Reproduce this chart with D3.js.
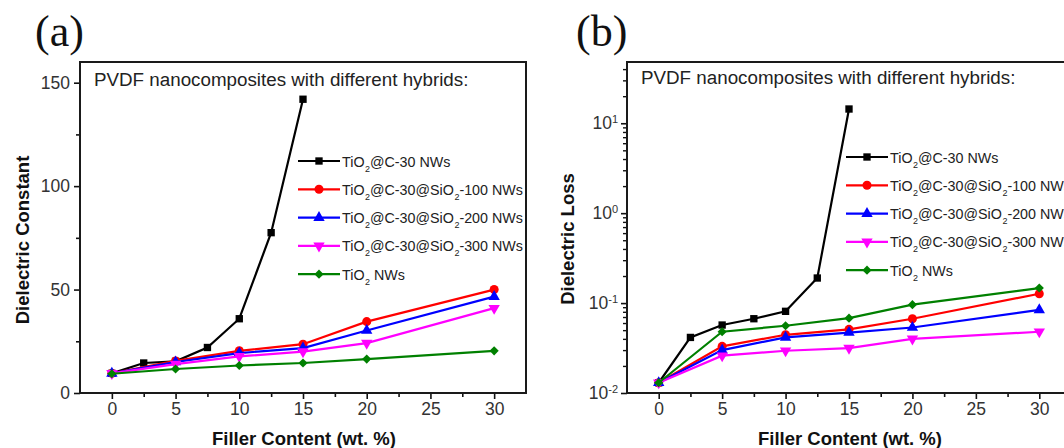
<!DOCTYPE html>
<html>
<head>
<meta charset="utf-8">
<script src="https://cdn.jsdelivr.net/npm/d3@7/dist/d3.min.js"></script>
<style>
  html, body { margin: 0; padding: 0; background: #fff; }
  svg { display: block; font-family: "Liberation Sans", Arial, sans-serif; }
</style>
</head>
<body>
<svg id="chart" width="1064" height="448"></svg>
<script>
// ---------------- data ----------------
const xBlack = [0, 2.5, 5, 7.5, 10, 12.5, 15];
const xOther = [0, 5, 10, 15, 20, 30];

// (a) dielectric constant
const constBlack   = [9.5, 14.5, 15.3, 22, 35.9, 77.5, 142];
const constRed     = [9.5, 15.5, 20.4, 23.6, 34.5, 50];
const constBlue    = [9.5, 15, 19.3, 21.7, 30.2, 46.6];
const constMagenta = [9.5, 14, 17.7, 20, 24.1, 41];
const constGreen   = [9.3, 11.6, 13.3, 14.5, 16.4, 20.4];

// (b) dielectric loss
const lossBlack   = [0.013, 0.0415, 0.057, 0.067, 0.081, 0.19, 14.4];
const lossRed     = [0.013, 0.033, 0.0444, 0.051, 0.067, 0.127];
const lossBlue    = [0.013, 0.030, 0.0415, 0.047, 0.0535, 0.084];
const lossMagenta = [0.013, 0.026, 0.0295, 0.0316, 0.040, 0.048];
const lossGreen   = [0.013, 0.048, 0.056, 0.068, 0.096, 0.147];

// legend labels: alternating normal text / subscript parts
const legendLabels = [
  ["TiO", "2", "@C-30 NWs"],
  ["TiO", "2", "@C-30@SiO", "2", "-100 NWs"],
  ["TiO", "2", "@C-30@SiO", "2", "-200 NWs"],
  ["TiO", "2", "@C-30@SiO", "2", "-300 NWs"],
  ["TiO", "2", " NWs"]
];
const seriesColors = ["#000000", "#ff0000", "#0000ff", "#ff00ff", "#008000"];
const seriesSymbols = ["square", "circle", "triangle", "triangleDown", "diamond"];

const xTicks = [0, 5, 10, 15, 20, 25, 30];
const xMinorTicks = [2.5, 7.5, 12.5, 17.5, 22.5, 27.5];
const yTicksA = [0, 50, 100, 150];
const yMinorTicksA = [25, 75, 125];
const yTicksB = [0.01, 0.1, 1, 10];
const yTickExpB = ["-2", "-1", "0", "1"];

const noteText = "PVDF nanocomposites with different hybrids:";
const xTitle = "Filler Content (wt. %)";

// ---------------- drawing ----------------
const svg = d3.select("#chart");
const tickColor = "#333";

function symbolPath(kind) {
  const map = {
    square: [d3.symbolSquare, 54, 0],
    circle: [d3.symbolCircle, 64, 0],
    triangle: [d3.symbolTriangle, 56, 0],
    triangleDown: [d3.symbolTriangle, 56, 180],
    diamond: [d3.symbolSquare, 42, 45]
  };
  const m = map[kind];
  return { d: d3.symbol().type(m[0]).size(m[1])(), rot: m[2] };
}

function drawPanel(opt) {
  const g = svg.append("g");
  const x = d3.scaleLinear().domain([-2.5, 32.5]).range([opt.left, opt.right]);
  const y = opt.log
    ? d3.scaleLog().domain([0.01, 48]).range([opt.bottom, opt.top])
    : d3.scaleLinear().domain([0, 160]).range([opt.bottom, opt.top]);

  // x axis
  const xAxis = d3.axisBottom(x).tickValues(xTicks).tickSize(6).tickPadding(4).tickFormat(d3.format("d"));
  const gx = g.append("g").attr("transform", `translate(0,${opt.bottom})`).call(xAxis);
  gx.select(".domain").remove();
  gx.selectAll("line").attr("stroke", "#111").attr("stroke-width", 1.6);
  gx.selectAll("text").attr("fill", tickColor).attr("font-size", 17.5)
    .attr("font-family", "Liberation Sans, Arial, sans-serif");
  const gxm = g.append("g").attr("transform", `translate(0,${opt.bottom})`)
    .call(d3.axisBottom(x).tickValues(xMinorTicks).tickSize(4).tickFormat(""));
  gxm.select(".domain").remove();
  gxm.selectAll("line").attr("stroke", "#111").attr("stroke-width", 1.6);

  // y axis
  if (!opt.log) {
    const gy = g.append("g").attr("transform", `translate(${opt.left},0)`)
      .call(d3.axisLeft(y).tickValues(yTicksA).tickSize(6).tickPadding(4).tickFormat(d3.format("d")));
    gy.select(".domain").remove();
    gy.selectAll("line").attr("stroke", "#111").attr("stroke-width", 1.6);
    gy.selectAll("text").attr("fill", tickColor).attr("font-size", 17.5)
      .attr("font-family", "Liberation Sans, Arial, sans-serif");
    const gym = g.append("g").attr("transform", `translate(${opt.left},0)`)
      .call(d3.axisLeft(y).tickValues(yMinorTicksA).tickSize(4).tickFormat(""));
    gym.select(".domain").remove();
    gym.selectAll("line").attr("stroke", "#111").attr("stroke-width", 1.6);
  } else {
    const gy = g.append("g").attr("transform", `translate(${opt.left},0)`)
      .call(d3.axisLeft(y).tickValues(yTicksB).tickSize(6).tickPadding(12).tickFormat(() => ""));
    gy.select(".domain").remove();
    gy.selectAll("line").attr("stroke", "#111").attr("stroke-width", 1.6);
    gy.selectAll(".tick text").each(function(d, i) {
      const t = d3.select(this).attr("fill", tickColor).attr("font-size", 17.5)
        .attr("font-family", "Liberation Sans, Arial, sans-serif");
      t.text(null);
      t.append("tspan").text("10");
      t.append("tspan").attr("font-size", 11).attr("dy", "-0.55em").text(yTickExpB[i]);
    });
    gy.selectAll(".tick text").attr("x", -9);
    const minor = [];
    for (let e = -2; e <= 1; e++) for (let k = 2; k <= 9; k++) {
      const v = k * Math.pow(10, e);
      if (v <= 48) minor.push(v);
    }
    const gym = g.append("g").attr("transform", `translate(${opt.left},0)`)
      .call(d3.axisLeft(y).tickValues(minor).tickSize(4).tickFormat(""));
    gym.select(".domain").remove();
    gym.selectAll("line").attr("stroke", "#111").attr("stroke-width", 1.4);
  }

  // frame
  g.append("rect")
    .attr("x", opt.left).attr("y", opt.top)
    .attr("width", opt.right - opt.left).attr("height", opt.bottom - opt.top)
    .attr("fill", "none").attr("stroke", "#1a1a1a").attr("stroke-width", 2);

  // series
  const line = d3.line().x(d => x(d[0])).y(d => y(d[1]));
  opt.series.forEach((s, i) => {
    const pts = s.xs.map((xv, j) => [xv, s.ys[j]]);
    g.append("path").datum(pts).attr("d", line)
      .attr("fill", "none").attr("stroke", seriesColors[i]).attr("stroke-width", 2.2);
    const sp = symbolPath(seriesSymbols[i]);
    g.selectAll(null).data(pts).enter().append("path")
      .attr("d", sp.d)
      .attr("transform", d => `translate(${x(d[0])},${y(d[1])}) rotate(${sp.rot})`)
      .attr("fill", seriesColors[i]);
  });

  // note text
  g.append("text").attr("x", opt.left + 14).attr("y", opt.noteY)
    .attr("font-size", 18.8).attr("fill", "#222").text(noteText);

  // legend
  legendLabels.forEach((lab, i) => {
    const cy = opt.legY + i * opt.legStep;
    g.append("line").attr("x1", opt.legX).attr("x2", opt.legX + 42)
      .attr("y1", cy).attr("y2", cy)
      .attr("stroke", seriesColors[i]).attr("stroke-width", 2.2);
    const sp = symbolPath(seriesSymbols[i]);
    g.append("path").attr("d", sp.d)
      .attr("transform", `translate(${opt.legX + 21},${cy}) rotate(${sp.rot})`)
      .attr("fill", seriesColors[i]);
    const t = g.append("text").attr("x", opt.legX + 44).attr("y", cy + 5.5)
      .attr("font-size", 14.3).attr("fill", "#222");
    lab.forEach((part, k) => {
      if (k % 2 === 1) {
        t.append("tspan").attr("font-size", 9).attr("dy", 5).attr("dx", 0.5).text(part);
      } else {
        t.append("tspan").attr("dy", k === 0 ? 0 : -5).text(part);
      }
    });
  });

  // axis titles
  g.append("text").attr("x", (opt.left + opt.right) / 2 + 1).attr("y", 445)
    .attr("text-anchor", "middle").attr("font-weight", "bold").attr("font-size", 18.5)
    .attr("fill", "#111").text(xTitle);
  g.append("text")
    .attr("transform", `translate(${opt.yTitleX},${opt.yTitleY}) rotate(-90)`)
    .attr("text-anchor", "middle").attr("font-weight", "bold").attr("font-size", 18.5)
    .attr("fill", "#111").text(opt.yTitle);

  // panel letter
  g.append("text").attr("x", opt.letterX).attr("y", 46)
    .attr("font-family", "Liberation Serif, Times New Roman, serif")
    .attr("font-size", 44).attr("fill", "#111").text(opt.letter);
}

drawPanel({
  left: 80, right: 526, top: 62, bottom: 393, log: false,
  series: [
    { xs: xBlack, ys: constBlack },
    { xs: xOther, ys: constRed },
    { xs: xOther, ys: constBlue },
    { xs: xOther, ys: constMagenta },
    { xs: xOther, ys: constGreen }
  ],
  noteY: 86, legX: 298, legY: 161, legStep: 28.3,
  yTitle: "Dielectric Constant", yTitleX: 29, yTitleY: 240,
  letter: "(a)", letterX: 35
});

drawPanel({
  left: 627, right: 1071, top: 62, bottom: 393, log: true,
  series: [
    { xs: xBlack, ys: lossBlack },
    { xs: xOther, ys: lossRed },
    { xs: xOther, ys: lossBlue },
    { xs: xOther, ys: lossMagenta },
    { xs: xOther, ys: lossGreen }
  ],
  noteY: 84, legX: 846, legY: 157, legStep: 28.3,
  yTitle: "Dielectric Loss", yTitleX: 574, yTitleY: 239,
  letter: "(b)", letterX: 576
});
</script>
</body>
</html>
